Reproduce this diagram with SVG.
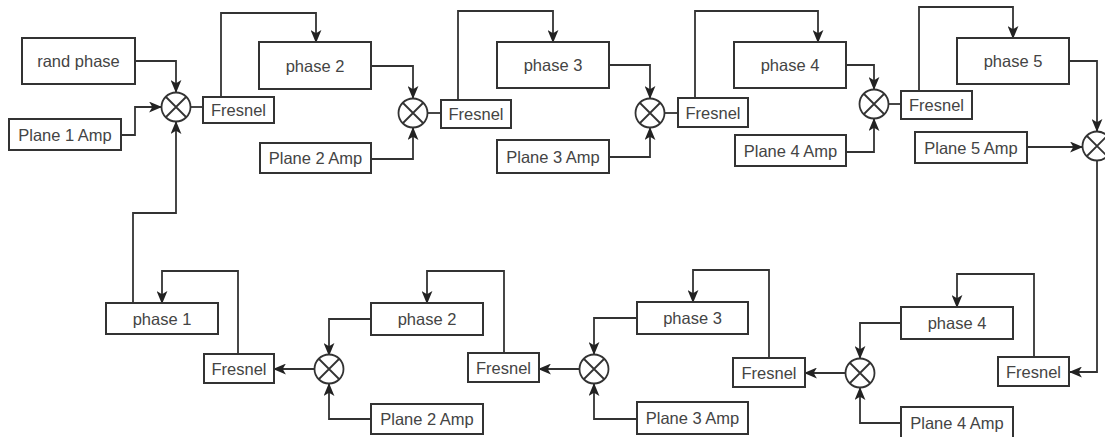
<svg xmlns="http://www.w3.org/2000/svg" width="1105" height="437" viewBox="0 0 1105 437">
  <style>
    .box { fill: #ffffff; stroke: #333333; stroke-width: 2; }
    .lbl { font-family: "Liberation Sans", Arial, sans-serif; font-size: 16.5px; fill: #444444; text-anchor: middle; dominant-baseline: central; }
    .wire { fill: none; stroke: #333333; stroke-width: 1.8; }
    .arrow { marker-end: url(#head); }
  </style>
  <defs>
    <marker id="head" viewBox="0 0 12 10" refX="11" refY="5" markerWidth="13" markerHeight="11" markerUnits="userSpaceOnUse" orient="auto">
      <path d="M0,0 L12,5 L0,10 L3,5 Z" fill="#222222"/>
    </marker>
    <!-- multiplier symbol: circle with a diagonal cross -->
    <g id="mul" fill="#ffffff" stroke="#333333" stroke-width="1.8">
      <circle cx="0" cy="0" r="14.5"/>
      <path d="M-10.25,-10.25 L10.25,10.25 M-10.25,10.25 L10.25,-10.25" fill="none"/>
    </g>
  </defs>

  <rect width="1105" height="437" fill="#ffffff"/>

  <!-- connectors -->
  <g id="connectors">
    <path class="wire arrow" d="M135,61 H176 V92"/>
    <path class="wire arrow" d="M121,135 H135 V107 H161"/>
    <path class="wire arrow" d="M133,303 V213 H176 V122"/>
    <path class="wire" d="M190,107 H203"/>
    <path class="wire arrow" d="M221,97 V13 H316 V42"/>
    <path class="wire arrow" d="M371,66 H413 V98"/>
    <path class="wire arrow" d="M371,159 H413 V128"/>
    <path class="wire" d="M427,113 H441"/>
    <path class="wire arrow" d="M458,100 V11 H553 V42"/>
    <path class="wire arrow" d="M609,65 H650 V98"/>
    <path class="wire arrow" d="M609,157 H650 V128"/>
    <path class="wire" d="M664,113 H678"/>
    <path class="wire arrow" d="M695,98 V11 H818 V42"/>
    <path class="wire arrow" d="M846,65 H874 V89"/>
    <path class="wire arrow" d="M846,152 H874 V119"/>
    <path class="wire" d="M888,104 H901"/>
    <path class="wire arrow" d="M919,91 V7 H1013 V38"/>
    <path class="wire arrow" d="M1069,61 H1097 V131"/>
    <path class="wire arrow" d="M1027,147 H1082"/>
    <path class="wire arrow" d="M1097,161 V372 H1070"/>
    <path class="wire arrow" d="M1034,357 V274 H957 V307"/>
    <path class="wire arrow" d="M901,323 H860 V358"/>
    <path class="wire arrow" d="M901,423 H860 V388"/>
    <path class="wire arrow" d="M845,373 H805"/>
    <path class="wire arrow" d="M769,358 V270 H693 V302"/>
    <path class="wire arrow" d="M637,318 H594 V354"/>
    <path class="wire arrow" d="M637,419 H594 V384"/>
    <path class="wire arrow" d="M580,369 H539"/>
    <path class="wire arrow" d="M504,353 V271 H427 V303"/>
    <path class="wire arrow" d="M371,319 H329 V355"/>
    <path class="wire arrow" d="M371,419 H329 V384"/>
    <path class="wire arrow" d="M315,369 H274"/>
    <path class="wire arrow" d="M238,354 V271 H162 V303"/>
  </g>

  <!-- top row -->
  <g id="rand-phase"><rect class="box" x="22" y="38" width="113" height="46"/><text class="lbl" x="78.5" y="61">rand phase</text></g>
  <g id="plane1-amp"><rect class="box" x="9" y="119" width="112" height="31"/><text class="lbl" x="65" y="134.5">Plane 1 Amp</text></g>
  <g id="mix1"><use href="#mul" x="176" y="107"/></g>
  <g id="fresnel1"><rect class="box" x="203" y="97" width="71" height="26"/><text class="lbl" x="238.5" y="110">Fresnel</text></g>

  <g id="phase2"><rect class="box" x="259" y="42" width="112" height="47"/><text class="lbl" x="315" y="65.5">phase 2</text></g>
  <g id="plane2-amp"><rect class="box" x="260" y="143" width="111" height="30"/><text class="lbl" x="315.5" y="158">Plane 2 Amp</text></g>
  <g id="mix2"><use href="#mul" x="413" y="113"/></g>
  <g id="fresnel2"><rect class="box" x="441" y="100" width="70" height="28"/><text class="lbl" x="476" y="114">Fresnel</text></g>

  <g id="phase3"><rect class="box" x="497" y="42" width="112" height="46"/><text class="lbl" x="553" y="65">phase 3</text></g>
  <g id="plane3-amp"><rect class="box" x="497" y="140" width="112" height="33"/><text class="lbl" x="553" y="156.5">Plane 3 Amp</text></g>
  <g id="mix3"><use href="#mul" x="650" y="113"/></g>
  <g id="fresnel3"><rect class="box" x="678" y="98" width="70" height="29"/><text class="lbl" x="713" y="112.5">Fresnel</text></g>

  <g id="phase4"><rect class="box" x="734" y="42" width="112" height="46"/><text class="lbl" x="790" y="65">phase 4</text></g>
  <g id="plane4-amp"><rect class="box" x="735" y="135" width="111" height="31"/><text class="lbl" x="790.5" y="150.5">Plane 4 Amp</text></g>
  <g id="mix4"><use href="#mul" x="874" y="104"/></g>
  <g id="fresnel4"><rect class="box" x="901" y="91" width="71" height="28"/><text class="lbl" x="936.5" y="105">Fresnel</text></g>

  <g id="phase5"><rect class="box" x="957" y="38" width="112" height="46"/><text class="lbl" x="1013" y="61">phase 5</text></g>
  <g id="plane5-amp"><rect class="box" x="915" y="132" width="112" height="31"/><text class="lbl" x="971" y="147.5">Plane 5 Amp</text></g>
  <g id="mix5"><use href="#mul" x="1097" y="146"/></g>

  <!-- bottom row -->
  <g id="fresnel-b4"><rect class="box" x="998" y="357" width="71" height="29"/><text class="lbl" x="1033.5" y="371.5">Fresnel</text></g>
  <g id="phase4-b"><rect class="box" x="901" y="307" width="112" height="32"/><text class="lbl" x="957" y="323">phase 4</text></g>
  <g id="plane4-amp-b"><rect class="box" x="901" y="407" width="112" height="36"/><text class="lbl" x="957" y="423">Plane 4 Amp</text></g>
  <g id="mix-b4"><use href="#mul" x="860" y="373"/></g>

  <g id="fresnel-b3"><rect class="box" x="733" y="358" width="72" height="29"/><text class="lbl" x="769" y="372.5">Fresnel</text></g>
  <g id="phase3-b"><rect class="box" x="637" y="302" width="111" height="32"/><text class="lbl" x="692.5" y="318">phase 3</text></g>
  <g id="plane3-amp-b"><rect class="box" x="637" y="402" width="111" height="32"/><text class="lbl" x="692.5" y="418">Plane 3 Amp</text></g>
  <g id="mix-b3"><use href="#mul" x="594" y="369"/></g>

  <g id="fresnel-b2"><rect class="box" x="468" y="353" width="71" height="29"/><text class="lbl" x="503.5" y="367.5">Fresnel</text></g>
  <g id="phase2-b"><rect class="box" x="371" y="303" width="112" height="32"/><text class="lbl" x="427" y="319">phase 2</text></g>
  <g id="plane2-amp-b"><rect class="box" x="371" y="404" width="112" height="30"/><text class="lbl" x="427" y="419">Plane 2 Amp</text></g>
  <g id="mix-b2"><use href="#mul" x="329" y="369"/></g>

  <g id="fresnel-b1"><rect class="box" x="204" y="354" width="70" height="29"/><text class="lbl" x="239" y="368.5">Fresnel</text></g>
  <g id="phase1"><rect class="box" x="106" y="303" width="112" height="31"/><text class="lbl" x="162" y="318.5">phase 1</text></g>
</svg>
